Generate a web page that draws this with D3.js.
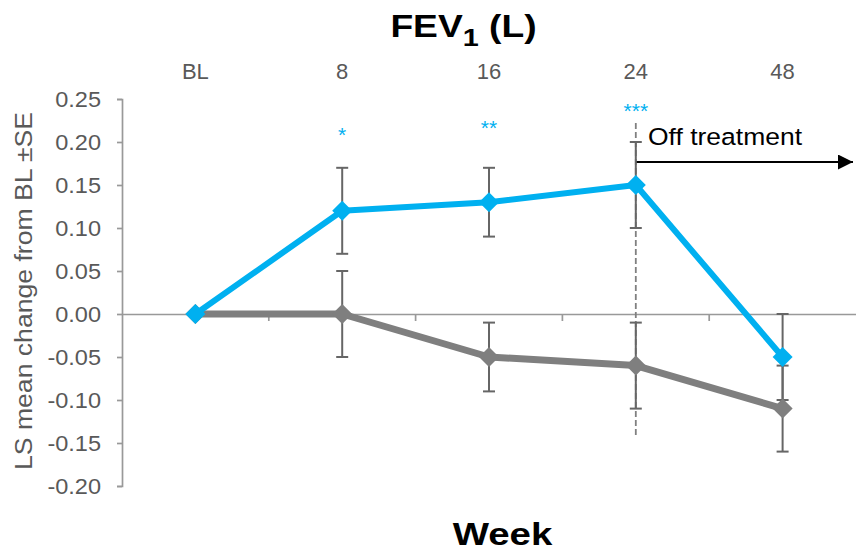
<!DOCTYPE html>
<html><head><meta charset="utf-8">
<script src="https://cdn.jsdelivr.net/npm/d3@7"></script>
<style>body{margin:0;background:#fff}svg{display:block;font-family:Arial,"Liberation Sans",sans-serif}</style>
</head><body>
<svg id="c" width="856" height="551"></svg>
<script>
const weeks = ["BL","8","16","24","48"];
const treated = [0, 0.12, 0.13, 0.15, -0.05];
const treatedLo = [0, 0.07, 0.09, 0.10, -0.10];
const treatedHi = [0, 0.17, 0.17, 0.20, 0.00];
const control = [0, 0, -0.05, -0.06, -0.11];
const controlLo = [0, -0.05, -0.09, -0.11, -0.16];
const controlHi = [0, 0.05, -0.01, -0.01, -0.06];
const signif = ["", "*", "**", "***", ""];
const yTicks = [0.25,0.20,0.15,0.10,0.05,0,-0.05,-0.10,-0.15,-0.20];

const svg = d3.select("#c");
const x = d3.scaleBand().domain(weeks).range([122, 856]).paddingInner(0).paddingOuter(0);
const y = d3.scaleLinear().domain([-0.20, 0.25]).range([486, 99]);
const cx = d => x(d) + x.bandwidth()/2;
const axisCol = "#999999", textCol = "#595959";

// y axis
const ya = svg.append("g").attr("transform","translate(122,0)")
  .call(d3.axisLeft(y).tickValues(yTicks).tickSize(5).tickPadding(21).tickFormat(d3.format(".2f")));
ya.select(".domain").attr("stroke",axisCol).attr("stroke-width",1.7);
ya.selectAll(".tick line").attr("stroke",axisCol).attr("stroke-width",1.7);
ya.selectAll(".tick text").attr("fill",textCol).style("font-size","22px").style("font-family","Arial, 'Liberation Sans', sans-serif")
  .attr("dy","0.36em").attr("transform","scale(1.07,1)")
  .attr("x", -21/1.07)
  .text(d => d3.format(".2f")(d).replace("−","-"));

// x axis at zero
const xa = svg.append("g").attr("transform",`translate(-5,${y(0)})`)
  .call(d3.axisBottom(x.copy().range([127, 861])).tickSize(0).tickFormat(""));
xa.select(".domain").attr("stroke",axisCol).attr("stroke-width",1.7);
xa.selectAll(".tick").remove();
const bounds = weeks.slice(1).map(w => x(w));
svg.append("g").selectAll("line").data(bounds).join("line")
  .attr("x1",d=>d).attr("x2",d=>d).attr("y1",y(0)).attr("y2",y(0)+7)
  .attr("stroke",axisCol).attr("stroke-width",1.7);

// category labels at top
svg.append("g").selectAll("text").data(weeks).join("text")
  .attr("x",d=>cx(d)).attr("y",79).attr("text-anchor","middle")
  .attr("fill",textCol).style("font-size","22px").text(d=>d);

// dashed off-treatment line
svg.append("line").attr("x1",cx("24")).attr("x2",cx("24")).attr("y1",123).attr("y2",437)
  .attr("stroke","#808080").attr("stroke-width",1.8).attr("stroke-dasharray","6,3");

// arrow
svg.append("defs").append("marker").attr("id","ah").attr("viewBox","0 0 10 10")
  .attr("refX",10).attr("refY",5).attr("markerWidth",16).attr("markerHeight",15)
  .attr("markerUnits","userSpaceOnUse").attr("orient","auto")
  .append("path").attr("d","M0,0L10,5L0,10Z").attr("fill","#000");
svg.append("line").attr("x1",cx("24")).attr("x2",853).attr("y1",162).attr("y2",162)
  .attr("stroke","#000").attr("stroke-width",2.2).attr("marker-end","url(#ah)");
svg.append("text").attr("x",648).attr("y",145).style("font-size","24.5px").attr("fill","#000")
  .attr("textLength",154).attr("lengthAdjust","spacingAndGlyphs").text("Off treatment");

function errBars(lo, hi){
  const g = svg.append("g").attr("stroke","#666666").attr("stroke-width",2);
  weeks.forEach((w,i)=>{
    if (lo[i]===hi[i]) return;
    g.append("line").attr("x1",cx(w)).attr("x2",cx(w)).attr("y1",y(lo[i])).attr("y2",y(hi[i]));
    [lo[i],hi[i]].forEach(v=>g.append("line").attr("x1",cx(w)-6).attr("x2",cx(w)+6).attr("y1",y(v)).attr("y2",y(v)));
  });
}
function series(vals, color, width){
  const line = d3.line().x((d,i)=>cx(weeks[i])).y(d=>y(d));
  svg.append("path").datum(vals).attr("d",line).attr("fill","none")
    .attr("stroke",color).attr("stroke-width",width).attr("stroke-linejoin","round");
  svg.append("g").selectAll("path").data(vals).join("path")
    .attr("transform",(d,i)=>`translate(${cx(weeks[i])},${y(d)})`)
    .attr("d","M0,-10L10,0L0,10L-10,0Z").attr("fill",color);
}
errBars(controlLo, controlHi);
errBars(treatedLo, treatedHi);
series(control, "#7f7f7f", 7);
series(treated, "#00b0f0", 6);

// significance stars
const starY = {"*":142, "**":135, "***":118};
svg.append("g").selectAll("text").data(signif).join("text")
  .attr("x",(d,i)=>cx(weeks[i])).attr("y",d=>starY[d]||0).attr("text-anchor","middle")
  .attr("fill","#00b0f0").style("font-size","21px").text(d=>d);

// titles
const t = svg.append("text").attr("transform","translate(463.5,37) scale(1.2,1)").attr("text-anchor","middle")
  .style("font-size","31px").style("font-weight","bold").attr("fill","#000");
t.append("tspan").text("FEV");
t.append("tspan").attr("dy",9).style("font-size","24px").text("1");
t.append("tspan").attr("dy",-9).text(" (L)");
svg.append("text").attr("transform","translate(502.5,545) scale(1.24,1)").attr("text-anchor","middle")
  .style("font-size","31px").style("font-weight","bold").attr("fill","#000").text("Week");
svg.append("text").attr("transform","translate(32,291) rotate(-90)").attr("text-anchor","middle")
  .attr("fill",textCol).style("font-size","23.5px")
  .attr("textLength",358).attr("lengthAdjust","spacingAndGlyphs").text("LS mean change from BL ±SE");
</script>
</body></html>
